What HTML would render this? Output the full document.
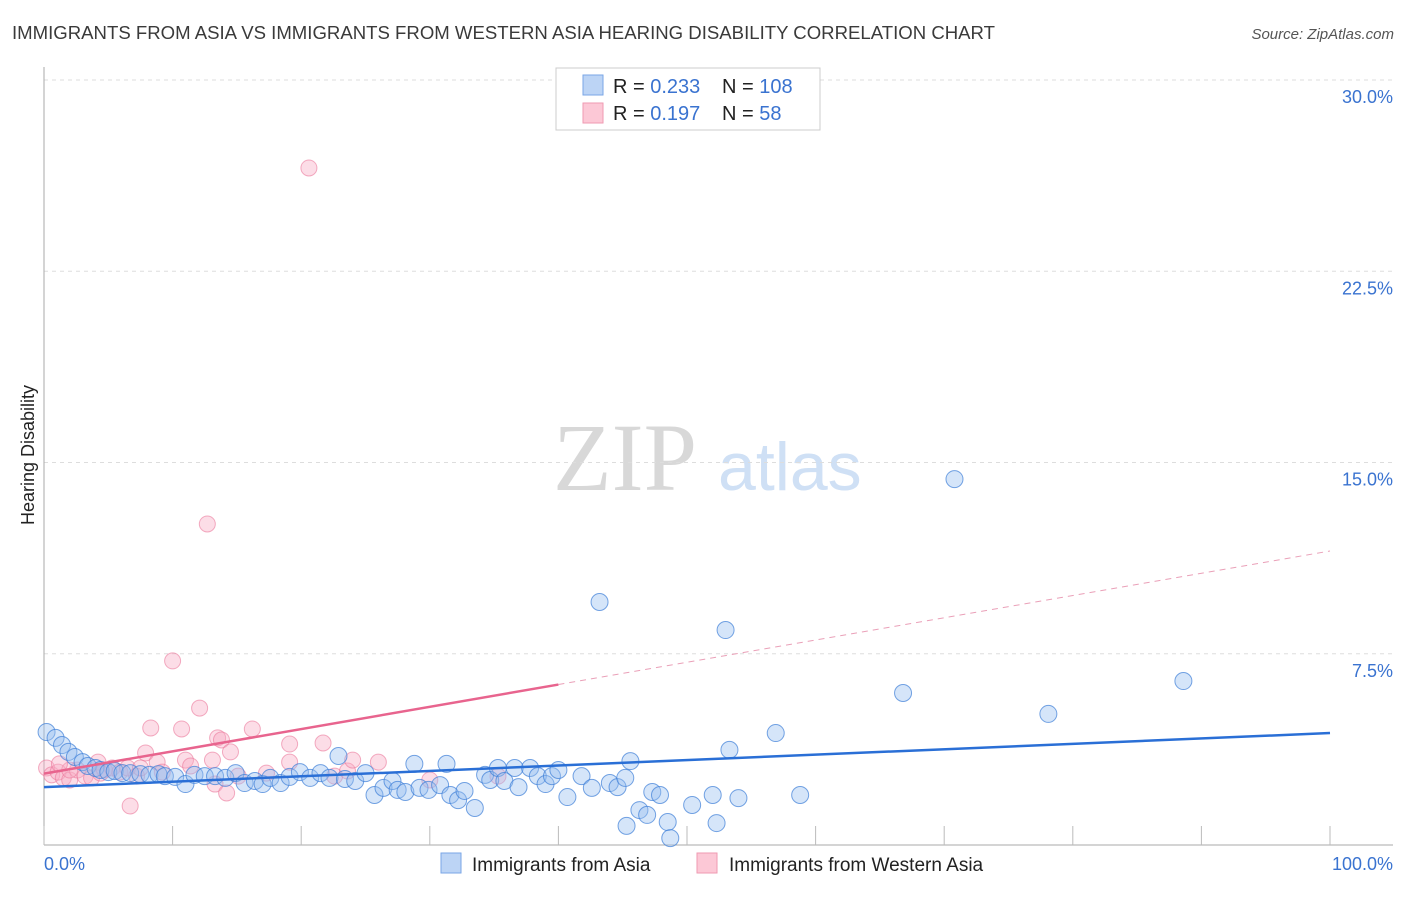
<!DOCTYPE html>
<html><head><meta charset="utf-8"><style>
body{margin:0;background:#fff;font-family:"Liberation Sans",sans-serif;}
</style></head><body>
<svg id="chart" width="1406" height="892" viewBox="0 0 1406 892" font-family="Liberation Sans, sans-serif">
<text x="12" y="39" font-size="18" fill="#3a3a3a" textLength="983" lengthAdjust="spacingAndGlyphs">IMMIGRANTS FROM ASIA VS IMMIGRANTS FROM WESTERN ASIA HEARING DISABILITY CORRELATION CHART</text>
<text x="1394" y="39" font-size="15" fill="#555" font-style="italic" text-anchor="end">Source: ZipAtlas.com</text>
<g>
<text x="553" y="490" font-size="96" fill="#d8d8d8" style="font-family:'Liberation Serif',serif">ZIP</text>
<text x="718" y="490" font-size="68" fill="#cfe0f5">atlas</text>
</g>
<g id="grid"></g>
<g id="axes"></g>
<g id="pts"></g>
<g id="trends"></g>
<text x="34" y="455" font-size="18" fill="#222" transform="rotate(-90 34 455)" text-anchor="middle">Hearing Disability</text>
<g>
<rect x="556" y="68" width="264" height="62" fill="#fff" stroke="#ccc"/>
<rect x="583" y="75" width="20" height="20" fill="#bcd4f5" stroke="#7aa6e6"/>
<rect x="583" y="103" width="20" height="20" fill="#fcc8d6" stroke="#ef9ab2"/>
<text x="613" y="93" font-size="20" fill="#222">R = <tspan fill="#3a73d0">0.233</tspan></text>
<text x="722" y="93" font-size="20" fill="#222">N = <tspan fill="#3a73d0">108</tspan></text>
<text x="613" y="120" font-size="20" fill="#222">R = <tspan fill="#3a73d0"> 0.197</tspan></text>
<text x="722" y="120" font-size="20" fill="#222">N = <tspan fill="#3a73d0">  58</tspan></text>
</g>
<g>
<rect x="441" y="853" width="20" height="20" fill="#bcd4f5" stroke="#7aa6e6"/>
<text x="472" y="871" font-size="19" fill="#222">Immigrants from Asia</text>
<rect x="697" y="853" width="20" height="20" fill="#fcc8d6" stroke="#ef9ab2"/>
<text x="729" y="871" font-size="19" fill="#222">Immigrants from Western Asia</text>
</g>
</svg>
<script>
const yTicks=[7.5,15,22.5,30];
const yTickLabels=["7.5%","15.0%","22.5%","30.0%"];
const xTicks=[0,10,20,30,40,50,60,70,80,90,100];
const xEndLabels=["0.0%","100.0%"];
const asiaX=[0.2,0.9,1.4,1.9,2.4,3.0,3.4,4.0,4.4,5.0,5.5,6.1,6.7,7.5,8.2,8.9,9.4,10.2,11.0,11.7,12.5,13.3,14.1,14.9,15.6,16.4,17.0,17.6,18.4,19.1,19.9,20.7,21.5,22.2,22.9,23.4,24.2,25.0,25.7,26.4,27.1,27.5,28.1,28.8,29.2,29.9,30.8,31.3,31.6,32.2,32.7,33.5,34.3,34.7,35.3,35.8,36.6,36.9,37.8,38.4,39.0,39.5,40.0,40.7,41.8,42.6,43.2,44.0,44.6,45.2,45.6,46.3,46.9,47.3,47.9,48.5,45.3,48.7,50.4,52.0,52.3,53.0,53.3,54.0,56.9,58.8,66.8,70.8,78.1,88.6];
const asiaY=[4.43,4.2,3.92,3.65,3.45,3.25,3.1,3.02,2.94,2.86,2.9,2.82,2.82,2.78,2.75,2.78,2.7,2.67,2.39,2.75,2.7,2.7,2.63,2.82,2.43,2.51,2.39,2.63,2.43,2.67,2.86,2.63,2.82,2.63,3.49,2.59,2.51,2.82,1.96,2.24,2.51,2.16,2.08,3.18,2.24,2.16,2.35,3.18,1.96,1.76,2.12,1.45,2.75,2.55,3.02,2.51,3.02,2.27,3.02,2.7,2.39,2.7,2.94,1.88,2.7,2.24,9.53,2.43,2.27,2.63,3.29,1.37,1.18,2.08,1.96,0.9,0.75,0.27,1.57,1.96,0.86,8.43,3.73,1.84,4.39,1.96,5.96,14.35,5.14,6.43];
const westX=[0.2,0.6,1.1,1.5,2.0,2.6,3.2,3.7,4.2,4.7,5.3,5.9,6.5,7.2,7.9,8.3,8.8,9.2,10.0,10.7,11.0,11.4,12.1,12.7,13.1,13.3,13.5,13.8,14.5,14.2,15.1,16.2,17.3,19.1,19.1,20.6,21.7,22.6,23.6,24.0,26.0,30.0,35.3,6.7,2.0,1.2,4.4,7.5];
const westY=[3.02,2.75,2.86,2.63,2.55,2.94,2.7,2.63,3.25,2.94,3.02,2.86,3.02,2.7,3.61,4.59,3.25,2.86,7.22,4.55,3.33,3.1,5.37,12.59,3.33,2.39,4.2,4.12,3.65,2.04,2.7,4.55,2.82,3.96,3.25,26.55,4.0,2.7,2.9,3.33,3.25,2.55,2.7,1.53,2.94,3.18,2.82,3.02];
const asiaTrend=[2.27,4.39];
const westTrend=[2.8,11.53];
const NS="http://www.w3.org/2000/svg";
const sx=v=>44+v*12.86, sy=v=>845-v*25.5;
function mk(t,a,p){const e=document.createElementNS(NS,t);for(const k in a)e.setAttribute(k,a[k]);p.appendChild(e);return e;}
const grid=document.getElementById('grid'),axes=document.getElementById('axes'),pts=document.getElementById('pts'),tr=document.getElementById('trends');
yTicks.forEach((v,i)=>{
 const l=mk('line',{x1:44,x2:1393,y1:sy(v),y2:sy(v),stroke:'#ddd','stroke-dasharray':'4,4'},grid);
 
 
 const t=mk('text',{x:1393,y:sy(v)+23,'font-size':18,fill:'#3a73d0','text-anchor':'end'},axes);
 t.textContent=yTickLabels[i];
 
 
});
const ya=mk('line',{x1:44,x2:44,y1:67,y2:845,stroke:'#aaa'},axes);


const xa=mk('line',{x1:44,x2:1393,y1:845,y2:845,stroke:'#aaa'},axes);


xTicks.forEach(v=>{
 const l=mk('line',{x1:sx(v),x2:sx(v),y1:826,y2:845,stroke:'#bbb'},axes);
 
 
});
const xl0=mk('text',{x:44,y:870,'font-size':18,fill:'#3a73d0'},axes);xl0.textContent=xEndLabels[0];


const xl1=mk('text',{x:1393,y:870,'font-size':18,fill:'#3a73d0','text-anchor':'end'},axes);xl1.textContent=xEndLabels[1];


westX.forEach((x,i)=>{
 const c=mk('circle',{cx:sx(x),cy:sy(westY[i]),r:8,fill:'rgba(248,170,195,0.4)',stroke:'rgba(235,120,155,0.6)','stroke-width':1},pts);
 
 
});
asiaX.forEach((x,i)=>{
 const c=mk('circle',{cx:sx(x),cy:sy(asiaY[i]),r:8.5,fill:'rgba(150,190,240,0.4)',stroke:'rgba(60,125,215,0.7)','stroke-width':1},pts);
 
 
});
const wAt=x=>westTrend[0]+(westTrend[1]-westTrend[0])*x/100;
const w1=mk('line',{x1:sx(0),y1:sy(wAt(0)),x2:sx(40),y2:sy(wAt(40)),stroke:'#e8648e','stroke-width':2.5},tr);


const w2=mk('line',{x1:sx(40),y1:sy(wAt(40)),x2:sx(100),y2:sy(wAt(100)),stroke:'#eaa0b8','stroke-width':1,'stroke-dasharray':'6,5'},tr);


const a1=mk('line',{x1:sx(0),y1:sy(asiaTrend[0]),x2:sx(100),y2:sy(asiaTrend[1]),stroke:'#2a6fd6','stroke-width':2.5},tr);


</script>
</body></html>
